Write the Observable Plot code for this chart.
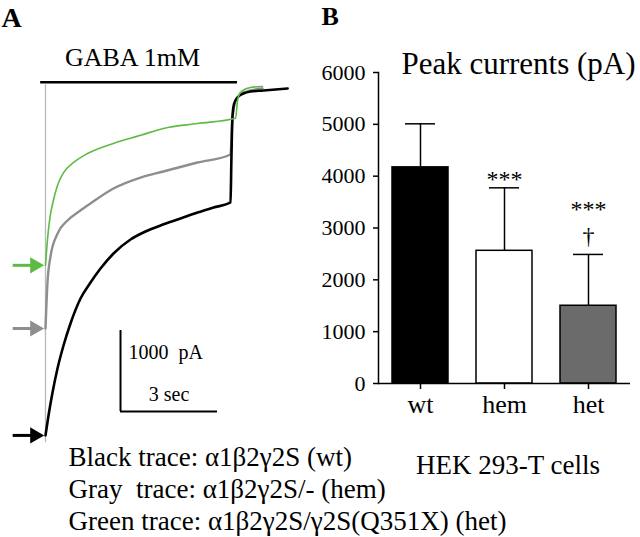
<!DOCTYPE html>
<html><head><meta charset="utf-8">
<script src="https://cdn.jsdelivr.net/npm/d3@7"></script>
<script src="https://cdn.jsdelivr.net/npm/@observablehq/plot@0.6"></script>
<style>
html,body{margin:0;padding:0;background:#fff;}
#wrap{position:relative;width:640px;height:537px;overflow:hidden;background:#fff;}
#wrap svg{position:absolute;top:0;}
#wrap svg text, #wrap svg g{font-family:'Liberation Serif','Times New Roman',Times,serif !important;font-variant:normal !important;}
</style></head><body><div id="wrap"></div>
<script>
// ---------- Panel A: current traces (time in s, current in pA) ----------
const blackT = [0, 0.093, 0.217, 0.371, 0.557, 0.773, 1.083, 1.392, 1.701, 2.103, 2.629, 3.093, 3.557, 4.176, 4.701, 5.196, 5.722, 5.75, 5.78, 5.83, 5.94, 6.12, 6.34, 6.74, 7.49];
const blackI = [-4320, -4074, -3790, -3494, -3210, -2938, -2630, -2432, -2259, -2074, -1901, -1802, -1728, -1642, -1568, -1506, -1444, -900, -400, -230, -148, -99, -74, -62, -37];
const grayT = [0, 0.06, 0.15, 0.37, 0.68, 1.08, 1.39, 2.10, 2.94, 3.65, 4.70, 5.72, 5.78, 5.88, 6.03, 6.34, 6.71];
const grayI = [-3000, -2440, -2120, -1830, -1667, -1543, -1457, -1272, -1136, -1062, -951, -852, -430, -185, -110, -62, -37];
const greenT = [0, 0.06, 0.15, 0.22, 0.37, 0.56, 0.87, 1.30, 2.10, 2.94, 3.65, 4.70, 5.88, 5.94, 6.03, 6.34, 6.71];
const greenI = [-2220, -1910, -1600, -1460, -1235, -1075, -950, -840, -715, -615, -530, -470, -405, -185, -85, -25, -12];
const gabaOn = -0.15, gabaOff = 5.94;           // GABA application (s)
const scaleBarPA = 1000, scaleBarSec = 3;
const traceNames = ["gray", "black", "green"];
const traceColors = {black: "#000000", gray: "#8e8e8e", green: "#5dbb43"};
const legendLines = [
  "Black trace: α1β2γ2S (wt)",
  "Gray\u00a0 trace: α1β2γ2S/- (hem)",
  "Green trace: α1β2γ2S/γ2S(Q351X) (het)"
];
const gabaLabel = "GABA 1mM";

// ---------- Panel B: peak currents ----------
const groups = ["wt", "hem", "het"];
const peakMeans = [4170, 2560, 1500];
const peakErrors = [840, 1215, 990];
const barFills = ["#000000", "#ffffff", "#6b6b6b"];
const starLabels = ["", "***", "***"];
const daggerLabels = ["", "", "†"];
const yTicks = [0, 1000, 2000, 3000, 4000, 5000, 6000];
const titleB = "Peak currents (pA)";
const cellLine = "HEK 293-T cells";

const serif = "'Liberation Serif', 'Times New Roman', Times, serif";
const wrap = document.getElementById("wrap");

// build trace rows
const traceData = {black: [blackT, blackI], gray: [grayT, grayI], green: [greenT, greenI]};
const rows = {};
for (const n of traceNames) rows[n] = traceData[n][0].map((t, i) => ({t, I: traceData[n][1][i]}));
const peaks = traceNames.map(n => ({name: n, I: traceData[n][1][0], color: traceColors[n]}));

// scale geometry of panel A (scale bar: 97 px = 3 s, 81 px = 1000 pA)
const pxPerSec = 97 / 3, pxPerPA = 81 / 1000, x0 = 45, y0 = 85;
const sbT = 2.32, sbI = -3025;

const panelA = Plot.plot({
  width: 640, height: 537,
  marginLeft: 0, marginRight: 0, marginTop: 0, marginBottom: 0,
  style: {background: "transparent", color: "black"},
  x: {domain: [-x0 / pxPerSec, (640 - x0) / pxPerSec], range: [0, 640], axis: null},
  y: {domain: [-(537 - y0) / pxPerPA, y0 / pxPerPA], range: [537, 0], axis: null},
  marks: [
    Plot.ruleY([40], {x1: gabaOn, x2: gabaOff, stroke: "black", strokeWidth: 2.5}),
    Plot.ruleX([0], {y1: 10, y2: d3.min(peaks, d => d.I) - 90, stroke: "#b8b8b8", strokeWidth: 1.3}),
    Plot.line(rows.gray, {x: "t", y: "I", stroke: traceColors.gray, strokeWidth: 2.4, curve: "monotone-x"}),
    Plot.line(rows.black, {x: "t", y: "I", stroke: traceColors.black, strokeWidth: 2.6, curve: "monotone-x"}),
    Plot.line(rows.green, {x: "t", y: "I", stroke: traceColors.green, strokeWidth: 1.6, curve: "monotone-x"}),
    // arrows marking the peaks
    Plot.ruleY(peaks, {y: "I", x1: -1.0, x2: -0.34, stroke: "color", strokeWidth: 3}),
    Plot.dot(peaks, {x: -0.33, y: "I", symbol: "triangle", r: 6, fill: "color", stroke: "none", rotate: 90}),
    // scale bar
    Plot.ruleX([sbT], {y1: sbI, y2: sbI - scaleBarPA, stroke: "black", strokeWidth: 2}),
    Plot.ruleY([sbI - scaleBarPA], {x1: sbT, x2: sbT + scaleBarSec, stroke: "black", strokeWidth: 2}),
    Plot.text([`${scaleBarPA}\u00a0 pA`], {x: sbT, y: sbI, dx: 8, dy: 28, lineAnchor: "bottom", textAnchor: "start", fontSize: 20}),
    Plot.text([`${scaleBarSec} sec`], {x: sbT + scaleBarSec / 2, y: sbI - scaleBarPA, dy: -11, lineAnchor: "bottom", textAnchor: "middle", fontSize: 20}),
    // labels
    Plot.text(["A"], {frameAnchor: "top-left", dx: 1, dy: 26, lineAnchor: "bottom", textAnchor: "start", fontSize: 28, fontWeight: "bold"}),
    Plot.text([gabaLabel], {frameAnchor: "top-left", dx: 132, dy: 65, lineAnchor: "bottom", textAnchor: "middle", fontSize: 26}),
    Plot.text([legendLines.join("\n")], {frameAnchor: "top-left", dx: 68, dy: 442, lineAnchor: "top", lineHeight: 1.2, textAnchor: "start", fontSize: 27})
  ]
});
panelA.style.left = "0px";
wrap.appendChild(panelA);

const table = groups.map((g, i) => ({
  group: g, mean: peakMeans[i], top: peakMeans[i] + peakErrors[i],
  fill: barFills[i], stars: starLabels[i], dagger: daggerLabels[i],
  sig: [starLabels[i], daggerLabels[i]].filter(s => s).join("\n")
}));

const panelB = Plot.plot({
  width: 320, height: 537,
  marginLeft: 58, marginRight: 10, marginTop: 72, marginBottom: 154,
  style: {background: "transparent", fontSize: "21px", color: "black"},
  x: {domain: groups, paddingInner: 1 / 3, paddingOuter: 1 / 6, axis: null},
  y: {domain: [0, 6000], axis: null},
  color: {type: "identity"},
  marks: [
    Plot.barY(table, {x: "group", y: "mean", fill: "fill", stroke: "black", strokeWidth: 1.5}),
    Plot.ruleX(table, {x: "group", y1: "mean", y2: "top", stroke: "black", strokeWidth: 1.5}),
    Plot.tickY(table, {x: "group", y: "top", inset: 13, stroke: "black", strokeWidth: 1.5}),
    Plot.axisY({ticks: yTicks, tickSize: 5, tickPadding: 8, tickFormat: d => String(d), fontSize: 22, label: null, strokeWidth: 1.5}),
    Plot.axisX({tickSize: 6, tickPadding: 5, fontSize: 26, label: null, strokeWidth: 1.5}),
    Plot.ruleY([0], {stroke: "black", strokeWidth: 1.5}),
    Plot.frame({anchor: "left", stroke: "black", strokeWidth: 1.5}),
    Plot.text(table.filter(d => d.stars && !d.dagger), {x: "group", y: "top", text: "sig", lineAnchor: "bottom", dy: -1, fontSize: 24}),
    Plot.text(table.filter(d => d.stars && d.dagger), {x: "group", y: "top", text: "sig", lineAnchor: "bottom", lineHeight: 1.15, dy: -10, fontSize: 24}),
    Plot.text(["B"], {frameAnchor: "top-left", dx: -57, dy: -48, lineAnchor: "bottom", textAnchor: "start", fontSize: 26, fontWeight: "bold"}),
    Plot.text([titleB], {frameAnchor: "top-left", dx: 140, dy: 1, lineAnchor: "bottom", textAnchor: "middle", fontSize: 31}),
    Plot.text([cellLine], {frameAnchor: "top-left", dx: 129.5, dy: 401, lineAnchor: "bottom", textAnchor: "middle", fontSize: 27})
  ]
});
panelB.style.left = "320px";
wrap.appendChild(panelB);

// serif type for every text (axes included)
for (const svg of [panelA, panelB]) {
  d3.select(svg).selectAll("g, text").attr("font-family", serif).attr("font-variant", "normal")
    .style("font-family", serif).style("font-variant", "normal");
}
</script>
</body></html>
